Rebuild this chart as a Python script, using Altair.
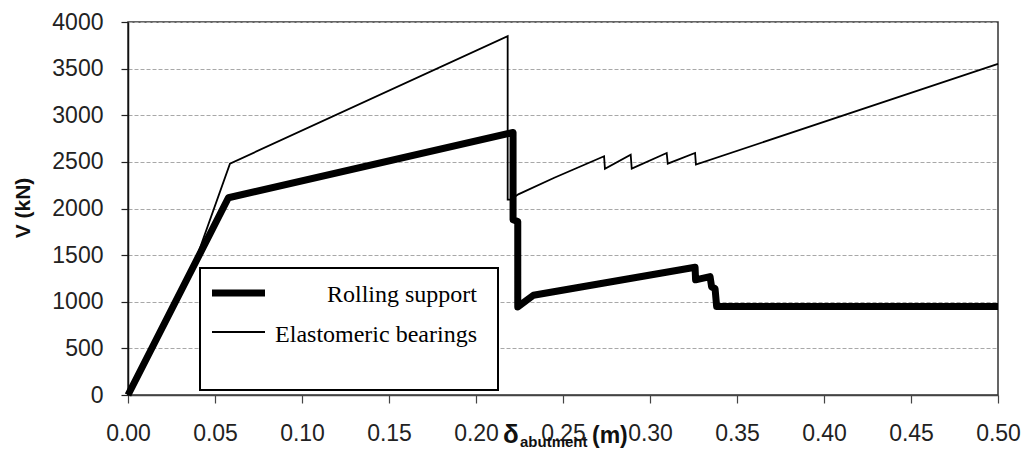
import altair as alt
import pandas as pd

# Rolling support (thick line)
rolling_x = [0.0, 0.0577, 0.2213, 0.2213, 0.2240, 0.2240, 0.2330, 0.3259, 0.3262, 0.3345, 0.3354, 0.3374, 0.3383, 0.5]
rolling_v = [0, 2115, 2815, 1880, 1860, 945, 1070, 1370, 1235, 1270, 1160, 1140, 950, 950]

# Elastomeric bearings (thin line)
elast_x = [0.0, 0.038, 0.0586, 0.2182, 0.2182, 0.2200, 0.2243, 0.245, 0.2736, 0.2741, 0.2889, 0.2895,
           0.3096, 0.3102, 0.3259, 0.3264, 0.5]
elast_v = [0, 1400, 2481, 3848, 2096, 2096, 2152, 2330, 2560, 2427, 2578, 2427,
           2595, 2481, 2595, 2471, 3552]

x_ticks = [0.0, 0.05, 0.10, 0.15, 0.20, 0.25, 0.30, 0.35, 0.40, 0.45, 0.50]
y_ticks = [0, 500, 1000, 1500, 2000, 2500, 3000, 3500, 4000]

legend_labels = ["Rolling support", "Elastomeric bearings"]

W, H = 870, 373

df_r = pd.DataFrame({"x": rolling_x, "v": rolling_v, "i": range(len(rolling_x))})
df_e = pd.DataFrame({"x": elast_x, "v": elast_v, "i": range(len(elast_x))})

xs = alt.Scale(domain=[0, 0.5], nice=False)
ys = alt.Scale(domain=[0, 4000], nice=False)

xaxis = alt.Axis(values=x_ticks, format=".2f", title=None, grid=False,
                 labelFont="Liberation Sans", labelFontSize=23, labelColor="#222",
                 tickSize=8, tickColor="#444", tickWidth=1.2, labelPadding=19,
                 domainColor="#444", domainWidth=1.5, labelFlush=False)
yaxis = alt.Axis(values=y_ticks, format="d", title=None, grid=True, gridColor="#a8a8a8",
                 gridDash=[4, 2], gridWidth=1,
                 labelFont="Liberation Sans", labelFontSize=23, labelColor="#222",
                 tickSize=7, tickColor="#222", tickWidth=1.2, labelPadding=18,
                 domainColor="#111", domainWidth=1.5)

thick = alt.Chart(df_r).mark_line(color="black", strokeWidth=7, strokeJoin="round").encode(
    x=alt.X("x:Q", scale=xs, axis=xaxis),
    y=alt.Y("v:Q", scale=ys, axis=yaxis),
    order="i:O",
)
thin = alt.Chart(df_e).mark_line(color="black", strokeWidth=1.8).encode(
    x=alt.X("x:Q", scale=xs),
    y=alt.Y("v:Q", scale=ys),
    order="i:O",
)

one = pd.DataFrame({"a": [0]})

legend_box = alt.Chart(one).mark_rect(fill="white", stroke="black", strokeWidth=2).encode(
    x=alt.value(72), x2=alt.value(370), y=alt.value(246), y2=alt.value(368))
leg_thick = alt.Chart(one).mark_rule(color="black", strokeWidth=7).encode(
    x=alt.value(84), x2=alt.value(137), y=alt.value(271))
leg_thin = alt.Chart(one).mark_rule(color="black", strokeWidth=1.8).encode(
    x=alt.value(84), x2=alt.value(137), y=alt.value(310))
leg_t1 = alt.Chart(one).mark_text(text=legend_labels[0], font="Liberation Serif", fontSize=24,
                                  align="right", baseline="alphabetic", color="black").encode(
    x=alt.value(349), y=alt.value(280))
leg_t2 = alt.Chart(one).mark_text(text=legend_labels[1], font="Liberation Serif", fontSize=24,
                                  align="right", baseline="alphabetic", color="black").encode(
    x=alt.value(349), y=alt.value(320))

t_delta = alt.Chart(one).mark_text(text="δ", font="Liberation Sans", fontSize=26, fontWeight="bold",
                                   align="left", baseline="alphabetic", color="#111").encode(
    x=alt.value(375), y=alt.value(421))
t_sub = alt.Chart(one).mark_text(text="abutment", font="Liberation Sans", fontSize=15, fontWeight="bold",
                                 align="left", baseline="alphabetic", color="#111").encode(
    x=alt.value(392), y=alt.value(425))
t_m = alt.Chart(one).mark_text(text="(m)", font="Liberation Sans", fontSize=23, fontWeight="bold",
                               align="left", baseline="alphabetic", color="#111").encode(
    x=alt.value(464), y=alt.value(421))
t_v = alt.Chart(one).mark_text(text="V (kN)", font="Liberation Sans", fontSize=21, fontWeight="bold",
                               align="center", baseline="middle", angle=270, color="#111").encode(
    x=alt.value(-104), y=alt.value(186))

chart = alt.layer(thick, thin, legend_box, leg_thick, leg_thin, leg_t1, leg_t2,
                  t_delta, t_sub, t_m, t_v).properties(
    width=W, height=H,
    autosize=alt.AutoSizeParams(type="none"),
    padding={"left": 128, "top": 22, "right": 28, "bottom": 60},
    background="white",
).configure_view(stroke="#333", strokeWidth=1.5)

chart.save("out.html", embed_options={"renderer": "svg", "actions": False})
